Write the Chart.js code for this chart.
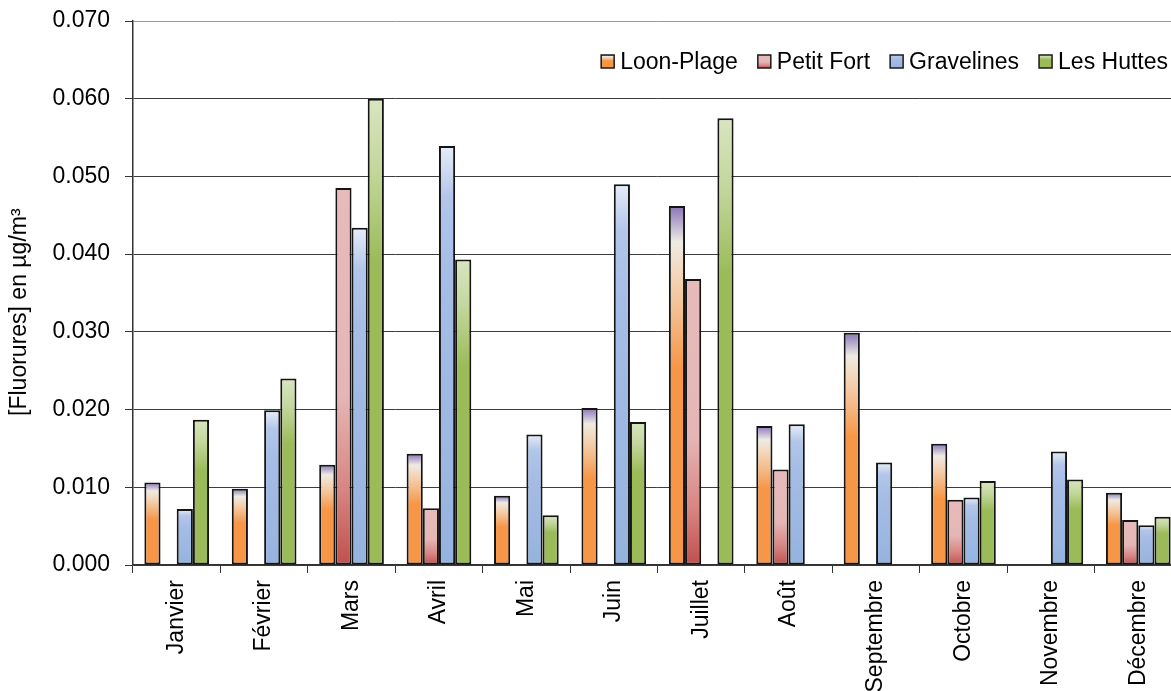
<!DOCTYPE html>
<html>
<head>
<meta charset="utf-8">
<script src="https://cdn.jsdelivr.net/npm/chart.js@4.4.1/dist/chart.umd.min.js"></script>
<style>
  html, body { margin: 0; padding: 0; overflow: hidden; background: #fff; }
  #wrap { width: 1184px; height: 691px; }
</style>
</head>
<body>
<div id="wrap"><canvas id="fluorures"></canvas></div>
<script>
const months = ['Janvier', 'Février', 'Mars', 'Avril', 'Mai', 'Juin', 'Juillet', 'Août', 'Septembre', 'Octobre', 'Novembre', 'Décembre'];
const loonPlage  = [0.0106, 0.0098, 0.0129, 0.0143, 0.0089, 0.0202, 0.0462, 0.0179, 0.0299, 0.0156, null,   0.0093];
const petitFort  = [null,   null,   0.0485, 0.0073, null,   null,   0.0368, 0.0123, null,   0.0084, null,   0.0058];
const gravelines = [0.0072, 0.0199, 0.0434, 0.0539, 0.0168, 0.0490, null,   0.0181, 0.0132, 0.0087, 0.0146, 0.0051];
const lesHuttes  = [0.0187, 0.0240, 0.0600, 0.0393, 0.0064, 0.0184, 0.0575, null,   null,   0.0108, 0.0110, 0.0062];
const yTicks = [0, 0.01, 0.02, 0.03, 0.04, 0.05, 0.06, 0.07];

const FONT = '"Liberation Sans", Arial, sans-serif';

// gradient stops, 0 = top of the bar, 1 = base
const orangeStops = [[0, '#8a76b3'], [0.035, '#ab9cc8'], [0.1, '#eeebe3'], [0.2, '#f4d4b6'], [0.3, '#f3bd8c'], [0.45, '#f79646'], [1, '#f79646']];
const pinkStops   = [[0, '#e7bbba'], [0.55, '#e5b6b5'], [0.8, '#d88583'], [1, '#c0504d']];
const blueStops   = [[0, '#e6edf8'], [0.12, '#b3c6ea'], [0.3, '#a6bde6'], [1, '#95b3df']];
const greenStops  = [[0, '#d9e5c0'], [0.15, '#c4d79d'], [0.35, '#9bbb59'], [1, '#9bbb59']];

function gradient(ctx, top, bottom, stops) {
  const g = ctx.createLinearGradient(0, top, 0, bottom);
  stops.forEach(([t, c]) => g.addColorStop(t, c));
  return g;
}

function barFill(stops) {
  return (c) => {
    const flat = stops[stops.length - 1][1];
    if (c.type !== 'data' || c.raw == null) return flat;
    const y = c.chart.scales.y;
    const top = y.getPixelForValue(c.raw);
    const base = y.getPixelForValue(0);
    if (!isFinite(top) || !isFinite(base) || base - top < 1) return flat;
    return gradient(c.chart.ctx, top, base, stops);
  };
}

const series = [
  { label: 'Loon-Plage', data: loonPlage, stops: orangeStops },
  { label: 'Petit Fort', data: petitFort, stops: pinkStops },
  { label: 'Gravelines', data: gravelines, stops: blueStops },
  { label: 'Les Huttes', data: lesHuttes, stops: greenStops }
];

// legend drawn inside the plot, top right
const insideLegend = {
  id: 'insideLegend',
  afterDraw(chart) {
    const ctx = chart.ctx;
    const box = 13, textGap = 6, itemGap = 20, right = 1168, cy = 62;
    ctx.save();
    ctx.font = '23px ' + FONT;
    ctx.textBaseline = 'middle';
    ctx.textAlign = 'left';
    const widths = series.map(s => ctx.measureText(s.label).width);
    const total = widths.reduce((a, w) => a + box + textGap + w, 0) + itemGap * (series.length - 1);
    let x = right - total;
    series.forEach((s, i) => {
      const top = 55;
      ctx.fillStyle = gradient(ctx, top, top + box, s.stops);
      ctx.fillRect(x, top, box, box);
      ctx.lineWidth = 1.5;
      ctx.strokeStyle = '#1a1a1a';
      ctx.strokeRect(x, top, box, box);
      ctx.fillStyle = '#000';
      ctx.fillText(s.label, x + box + textGap, cy + 1);
      x += box + textGap + widths[i] + itemGap;
    });
    ctx.restore();
  }
};

new Chart(document.getElementById('fluorures'), {
  type: 'bar',
  data: {
    labels: months,
    datasets: series.map(s => ({
      label: s.label,
      data: s.data,
      backgroundColor: barFill(s.stops),
      borderColor: '#141414',
      borderWidth: 2,
      borderSkipped: false,
      categoryPercentage: 0.74,
      barPercentage: 1.0
    }))
  },
  options: {
    responsive: true,
    maintainAspectRatio: false,
    animation: false,
    layout: { padding: { top: 21, right: 2, left: 0, bottom: 0 } },
    plugins: {
      legend: { display: false },
      tooltip: { enabled: false }
    },
    scales: {
      x: {
        grid: { drawOnChartArea: false, drawTicks: true, tickLength: 8, color: '#333', offset: true },
        border: { display: true, color: '#333', width: 1.5 },
        ticks: {
          color: '#000',
          font: { family: FONT, size: 23 },
          minRotation: 90,
          maxRotation: 90,
          autoSkip: false,
          padding: 7
        },
        afterFit(scale) { scale.height = 126; }
      },
      y: {
        min: 0,
        max: 0.07,
        afterBuildTicks(scale) { scale.ticks = yTicks.map(v => ({ value: v })); },
        grid: {
          color: (c) => (c.tick && c.tick.value >= 0.07 ? '#9a9a9a' : '#3c3c3c'),
          lineWidth: 1,
          tickLength: 8,
          tickColor: '#333'
        },
        border: { display: true, color: '#333', width: 1.5 },
        ticks: {
          color: '#000',
          font: { family: FONT, size: 23 },
          padding: 15,
          callback: (v) => Number(v).toFixed(3)
        },
        title: {
          display: true,
          text: '[Fluorures] en µg/m³' + '\u00a0'.repeat(6),
          color: '#000',
          font: { family: FONT, size: 23 },
          padding: { top: 6, bottom: 0 }
        },
        afterFit(scale) {
          scale.width = 133;
          scale.paddingTop = 0;
          scale.paddingBottom = 0;
        }
      }
    }
  },
  plugins: [insideLegend]
});
</script>
</body>
</html>
